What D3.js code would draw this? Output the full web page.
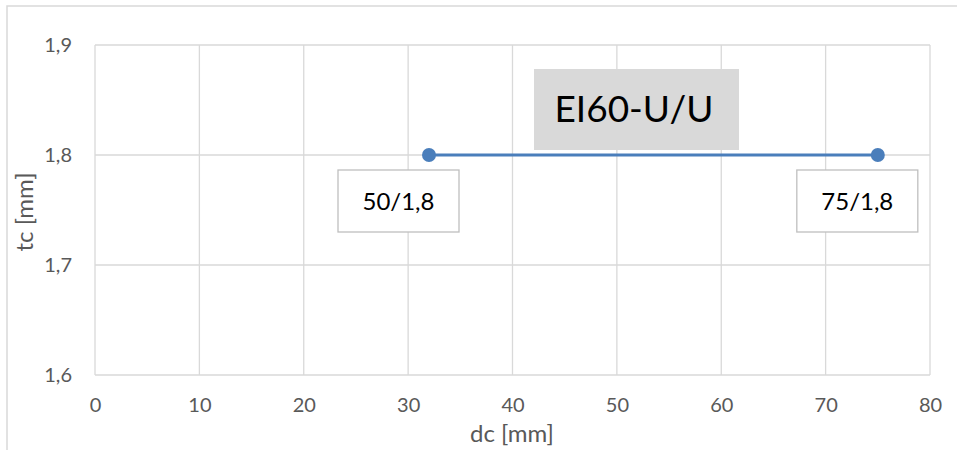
<!DOCTYPE html>
<html><head><meta charset="utf-8">
<script src="https://cdn.jsdelivr.net/npm/d3@7/dist/d3.min.js"></script>
<style>body{margin:0;background:#fff}svg{display:block;font-family:Lato,"Open Sans",sans-serif}</style>
</head><body><svg id="c" width="957" height="450"></svg>
<script>
const xValues = [32, 75];
const yValues = [1.8, 1.8];
const pointLabels = ["50/1,8", "75/1,8"];
const xTicks = [0,10,20,30,40,50,60,70,80];
const yTicks = [1.6,1.7,1.8,1.9];
const title = "EI60-U/U";
const xTitle = "dc [mm]";
const yTitle = "tc [mm]";

const svg = d3.select("#c");
const m = {l:95, r:930, t:45, b:375};
const x = d3.scaleLinear().domain([0,80]).range([m.l,m.r]);
const y = d3.scaleLinear().domain([1.6,1.9]).range([m.b,m.t]);
const labelDx = [-91, -81];

svg.append("rect").attr("x",7).attr("y",6).attr("width",1000).attr("height",500)
  .attr("fill","#fff").attr("stroke","#d9d9d9").attr("stroke-width",1.5);

svg.append("g").selectAll("line").data(xTicks).join("line")
  .attr("x1",d=>x(d)).attr("x2",d=>x(d)).attr("y1",m.t).attr("y2",m.b)
  .attr("stroke","#d9d9d9").attr("stroke-width",1.3);
svg.append("g").selectAll("line").data(yTicks).join("line")
  .attr("x1",m.l).attr("x2",m.r).attr("y1",d=>y(d)).attr("y2",d=>y(d))
  .attr("stroke","#d9d9d9").attr("stroke-width",1.3);

const fmt = d => d3.format(".1f")(d).replace(".",",");
const xAxis = svg.append("g").attr("transform",`translate(0,${m.b})`)
  .call(d3.axisBottom(x).tickValues(xTicks).tickSize(0).tickPadding(23).tickFormat(d3.format("d")));
const yAxis = svg.append("g").attr("transform",`translate(${m.l},0)`)
  .call(d3.axisLeft(y).tickValues(yTicks).tickSize(0).tickPadding(23).tickFormat(fmt));
[xAxis,yAxis].forEach(a=>{
  a.select(".domain").remove();
  a.selectAll("text").attr("fill","#595959").style("font-size","20px").style("font-family","Lato,'Open Sans',sans-serif");
});

svg.append("text").attr("x",512).attr("y",442).attr("text-anchor","middle")
  .attr("fill","#595959").style("font-size","24px").text(xTitle);
svg.append("text").attr("transform","translate(33,212) rotate(-90)").attr("text-anchor","middle")
  .attr("fill","#595959").style("font-size","24px").text(yTitle);

svg.append("rect").attr("x",534).attr("y",69).attr("width",205).attr("height",81).attr("fill","#d9d9d9");
svg.append("text").attr("x",634).attr("y",122).attr("text-anchor","middle").attr("fill","#000")
  .style("font-size","37px").text(title);

const pts = xValues.map((d,i)=>({x:d,y:yValues[i],label:pointLabels[i],dx:labelDx[i]}));
svg.append("path").datum(pts).attr("fill","none").attr("stroke","#4a7ebb").attr("stroke-width",3)
  .attr("d",d3.line().x(d=>x(d.x)).y(d=>y(d.y)));
svg.append("g").selectAll("circle").data(pts).join("circle")
  .attr("cx",d=>x(d.x)).attr("cy",d=>y(d.y)).attr("r",7).attr("fill","#4a7ebb");

const lg = svg.append("g").selectAll("g").data(pts).join("g")
  .attr("transform",d=>`translate(${x(d.x)+d.dx},${y(d.y)+15})`);
lg.append("rect").attr("width",121).attr("height",62).attr("fill","#fff").attr("stroke","#bfbfbf").attr("stroke-width",1.3);
lg.append("text").attr("x",60.5).attr("y",40).attr("text-anchor","middle").attr("fill","#000")
  .style("font-size","24px").text(d=>d.label);
</script></body></html>
